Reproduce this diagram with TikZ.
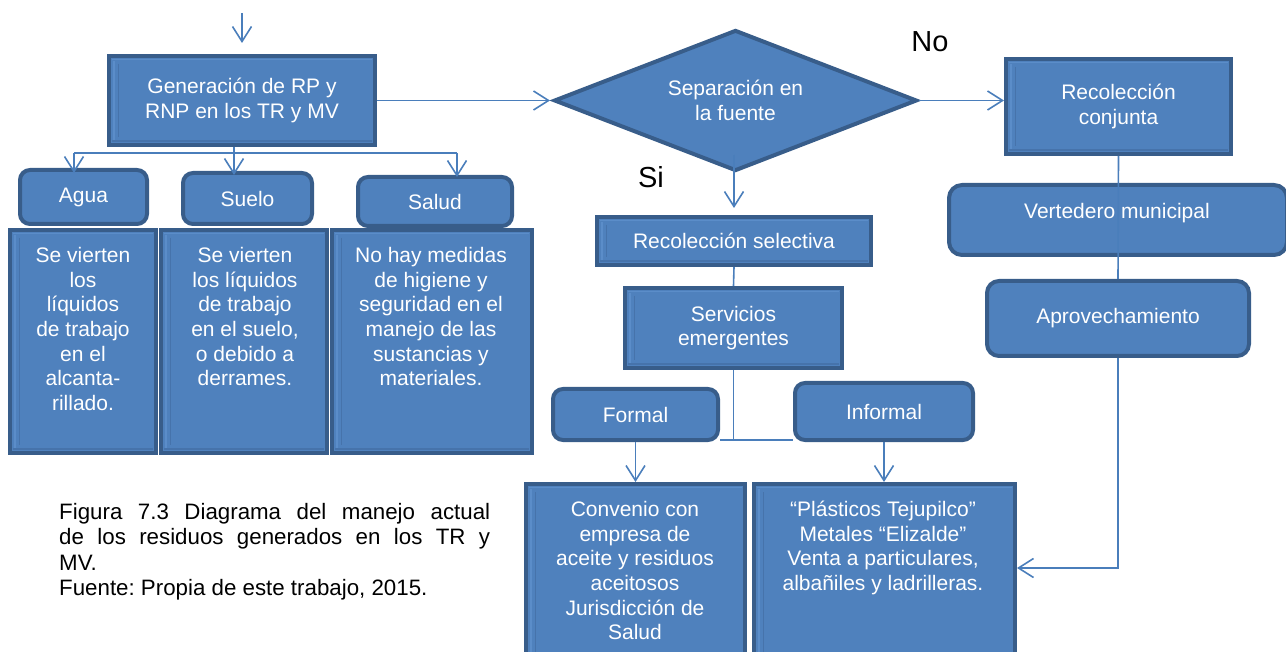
\documentclass[tikz,border=0pt]{standalone}
\usepackage{fontspec}
\setmainfont{Liberation Sans}
\usetikzlibrary{shapes.geometric,arrows.meta,calc}
\definecolor{fillb}{HTML}{4F81BD}
\definecolor{edgeb}{HTML}{385D8A}
\definecolor{lineb}{HTML}{4A7EBB}
\definecolor{lightb}{HTML}{5B8DC9}
\definecolor{darkb}{HTML}{4673AB}
\newcommand\boxfont{\fontsize{21}{24.6}\selectfont}
\newcommand\capfont{\fontsize{22.3}{25.4}\selectfont}
\newcommand\bigfont{\fontsize{29}{32}\selectfont}
\newcommand\fl{\rule{0pt}{20pt}}
\frenchspacing
\tikzset{
  box/.style={draw=edgeb, fill=fillb, line width=4pt, inner sep=0pt, text=white, font=\boxfont, align=center},
  sbox/.style={box, path picture={
      \draw[lightb, line width=2pt] ([xshift=5pt,yshift=-5pt]path picture bounding box.north west) -- ([xshift=5pt,yshift=5pt]path picture bounding box.south west);
      \draw[darkb, line width=1pt] ([xshift=9pt,yshift=-8pt]path picture bounding box.north west) -- ([xshift=9pt,yshift=8pt]path picture bounding box.south west);
      \draw[lightb, line width=1pt] ([xshift=3pt,yshift=-3.5pt]path picture bounding box.north west) -- ([xshift=-3pt,yshift=-3.5pt]path picture bounding box.north east);
      \draw[darkb, line width=2pt] ([xshift=3pt,yshift=4pt]path picture bounding box.south west) -- ([xshift=-3pt,yshift=4pt]path picture bounding box.south east);
    }},
  rbox/.style={box, rounded corners=10pt},
  txt/.style={text=white, font=\boxfont, align=center, inner sep=0pt},
  conn/.style={draw=lineb, line width=1.6pt},
  arr/.style={conn, -{Straight Barb[length=15pt,width=19pt,line width=1.6pt]}},
}
\begin{document}
\begin{tikzpicture}[x=1pt,y=-1pt]
\useasboundingbox (0,0) rectangle (1286,652);
% top row
\node[sbox, minimum width=266, minimum height=89] (gen) at (242,100.5) {Generación de RP y\\RNP en los TR y MV};
\node[box, shape=diamond, aspect=2.57, minimum width=363, minimum height=141] (dia) at (735.5,100.5) {Separación en\\la fuente};
\node[sbox, minimum width=225, minimum height=95] (rc) at (1118.5,106.5) {Recolección\\conjunta};
% impacts
\node[rbox, minimum width=127, minimum height=54] (agua) at (83.5,197) {Agua};
\node[rbox, minimum width=129, minimum height=51] (suelo) at (247.5,198.5) {Suelo};
\node[rbox, minimum width=154, minimum height=49] (salud) at (435,201.5) {Salud};
\node[sbox, minimum width=146, minimum height=223] (aguad) at (83,341.5) {};
\node[sbox, minimum width=166, minimum height=223] (suelod) at (244,341.5) {};
\node[sbox, minimum width=200, minimum height=223] (saludd) at (432,341.5) {};
\node[txt, anchor=north] (aguat) at (83,242.5) {\fl Se vierten\\los\\líquidos\\de trabajo\\en el\\alcanta-\\rillado.};
\node[txt, anchor=north] (suelot) at (245,242.5) {\fl Se vierten\\los líquidos\\de trabajo\\en el suelo,\\o debido a\\derrames.};
\node[txt, anchor=north] (saludt) at (431,242.5) {\fl No hay medidas\\de higiene y\\seguridad en el\\manejo de las\\sustancias y\\materiales.};
% selective branch
\node[sbox, minimum width=274, minimum height=48] (rs) at (734,241) {Recolección selectiva};
\node[sbox, minimum width=217, minimum height=80] (serv) at (733.5,328) {Servicios\\emergentes};
\node[rbox, minimum width=165, minimum height=51] (formal) at (635.5,414.5) {Formal};
\node[rbox, minimum width=178, minimum height=57] (informal) at (884,411.5) {Informal};
\node[sbox, minimum width=219, minimum height=176] (conv) at (635.5,572) {};
\node[sbox, minimum width=261, minimum height=176] (venta) at (884.5,572) {};
\node[txt, anchor=north] (convt) at (635,496.5) {\fl Convenio con\\empresa de\\aceite y residuos\\aceitosos\\Jurisdicción de\\Salud};
\node[txt, anchor=north] (ventat) at (883,496.5) {\fl “Plásticos Tejupilco”\\Metales “Elizalde”\\Venta a particulares,\\albañiles y ladrilleras.};
% joint branch
\node[rbox, rounded corners=13pt, minimum width=338, minimum height=70] (vert) at (1118,220) {};
\node[txt] (vertt) at (1117,213) {Vertedero municipal};
\node[rbox, rounded corners=12pt, minimum width=262, minimum height=75] (aprov) at (1118,318.5) {Aprovechamiento};
% labels
\node[font=\bigfont, inner sep=0pt] (no) at (930,42) {No};
\node[font=\bigfont, inner sep=0pt] (si) at (651,177) {Si};
% caption
\node[anchor=north west, inner sep=0pt, font=\capfont, align=left] (cap) at (59,499) {\fl\makebox[431pt][s]{Figura 7.3 Diagrama del manejo actual}\\\makebox[431pt][s]{de los residuos generados en los TR y}\\MV.\\Fuente: Propia de este trabajo, 2015.};
% connectors
\coordinate (tA) at (242,13);
\coordinate (tB) at (242,43);
\draw[arr] (tA) -- (tB);
\draw[arr] (gen.east) -- ($(dia.west)+(-2,0)$);
\coordinate (br) at (234,153);
\coordinate (brL) at (74,153);
\coordinate (brR) at (457,153);
\draw[conn] (gen.south -| br) -- (br);
\draw[conn] (brL) -- (brR);
\draw[arr] (brL) -- ($(agua.north -| brL)+(0,5)$);
\draw[arr] (br) -- ($(suelo.north -| br)+(0,4)$);
\draw[arr] (brR) -- ($(salud.north -| brR)+(0,2)$);
\draw[arr] (dia.east) -- (rc.west |- dia.east);
\draw[arr] ($(dia.south)+(-1.5,-18)$) -- ($(rs.north)+(0,-7)$);
\draw[conn] (rs.south) -- (serv.north);
\coordinate (jn) at (733,440);
\draw[conn] (serv.south) -- (serv.south |- jn);
\draw[conn] (formal.east |- jn) -- (informal.west |- jn);
\draw[arr] (formal.south) -- (conv.north -| formal.south);
\draw[arr] (informal.south) -- (venta.north -| informal.south);
\draw[conn] (rc.south) -- (aprov.north);
\coordinate (corner) at (1118,568);
\draw[arr] (aprov.south) -- (aprov.south |- corner) -- (venta.east |- corner);
\end{tikzpicture}
\end{document}
